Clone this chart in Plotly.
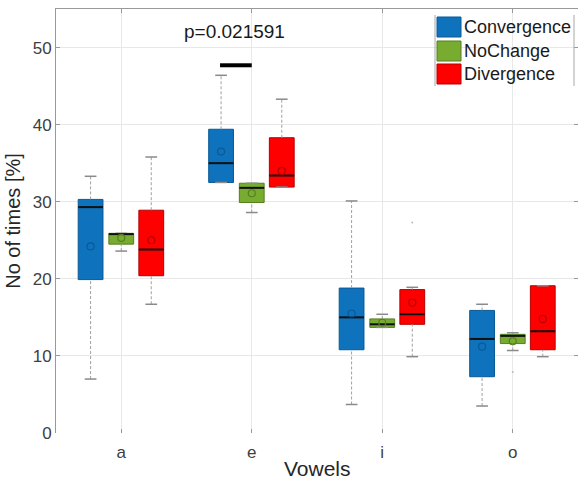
import plotly.graph_objects as go

vowels = ['a', 'e', 'i', 'o']
groups = ['Convergence', 'NoChange', 'Divergence']
fill_colors = ['#0E72BD', '#77AC30', '#FF0000']
edge_colors = ['#0A5A96', '#557F20', '#B40000']
offsets = [-0.235, 0.0, 0.23]
box_width = 0.19
cap_half = 0.045

q1 = {
    'Convergence': [19.9, 32.5, 10.8, 7.3],
    'NoChange':    [24.5, 29.9, 13.7, 11.6],
    'Divergence':  [20.4, 31.9, 14.1, 10.8],
}
median = {
    'Convergence': [29.3, 35.0, 15.0, 12.2],
    'NoChange':    [25.8, 31.8, 14.1, 12.6],
    'Divergence':  [23.8, 33.4, 15.4, 13.2],
}
q3 = {
    'Convergence': [30.3, 39.4, 18.8, 15.9],
    'NoChange':    [25.9, 32.4, 14.8, 12.8],
    'Divergence':  [28.9, 38.3, 18.6, 19.1],
}
lower_whisker = {
    'Convergence': [7.0, 32.5, 3.7, 3.5],
    'NoChange':    [23.6, 28.6, 13.7, 10.7],
    'Divergence':  [16.7, 31.9, 9.9, 9.9],
}
upper_whisker = {
    'Convergence': [33.3, 46.4, 30.1, 16.7],
    'NoChange':    [25.9, 32.4, 15.4, 13.0],
    'Divergence':  [35.8, 43.3, 18.9, 19.1],
}
means = {
    'Convergence': [24.2, 36.5, 15.5, 11.2],
    'NoChange':    [25.3, 31.1, 14.3, 11.9],
    'Divergence':  [25.0, 34.0, 16.9, 14.8],
}
outlier_group = ['Divergence', 'NoChange']
outlier_vowel = [2, 3]
outlier_value = [27.3, 7.9]

p_text = 'p=0.021591'
p_text_pos = (1.87, 52.1)
sig_bar_x = [1.757, 2.0]
sig_bar_y = 47.7
x_title = 'Vowels'
y_title = 'No of times [%]'

FONT = 'Liberation Sans, Arial, sans-serif'
W, H = 585, 481
ML, MR, MT, MB = 56, 7, 9, 48


def px_x(px):
    return (px - ML) / (W - ML - MR)


def px_y(py):
    return (H - MB - py) / (H - MB - MT)


fig = go.Figure()

for gi, g in enumerate(groups):
    pos = [i + 1 + offsets[gi] for i in range(len(vowels))]
    wx, wy, cx, cy = [], [], [], []
    for p, lo, hi, a, b in zip(pos, lower_whisker[g], upper_whisker[g], q1[g], q3[g]):
        if hi > b:
            wx += [p, p, None]; wy += [b, hi, None]
        if lo < a:
            wx += [p, p, None]; wy += [lo, a, None]
        cx += [p - cap_half, p + cap_half, None, p - cap_half, p + cap_half, None]
        cy += [hi, hi, None, lo, lo, None]
    fig.add_trace(go.Scatter(x=wx, y=wy, mode='lines', showlegend=False, hoverinfo='skip',
                             line=dict(color='#a0a0a0', width=1, dash='3px,2px')))
    fig.add_trace(go.Scatter(x=cx, y=cy, mode='lines', showlegend=False, hoverinfo='skip',
                             line=dict(color='#8a8a8a', width=1.5)))
    fig.add_trace(go.Box(x=pos, q1=q1[g], median=median[g], q3=q3[g],
                         lowerfence=q1[g], upperfence=q3[g],
                         width=box_width, whiskerwidth=0,
                         fillcolor=fill_colors[gi], line=dict(color=edge_colors[gi], width=1),
                         boxpoints=False, showlegend=False, name=g))
    mx, my = [], []
    for p, m in zip(pos, median[g]):
        mx += [p - box_width / 2, p + box_width / 2, None]
        my += [m, m, None]
    fig.add_trace(go.Scatter(x=mx, y=my, mode='lines', showlegend=False, hoverinfo='skip',
                             line=dict(color='#111111', width=2)))
    fig.add_trace(go.Scatter(x=pos, y=means[g], mode='markers', showlegend=False, name=g + ' mean',
                             marker=dict(symbol='circle-open', size=7,
                                         color=edge_colors[gi], line=dict(width=1.2))))

ox = [outlier_vowel[k] + 1 + offsets[groups.index(outlier_group[k])] for k in range(len(outlier_value))]
fig.add_trace(go.Scatter(x=ox, y=outlier_value, mode='markers', showlegend=False,
                         marker=dict(symbol='circle', size=2, color='#bbbbbb')))

# significance bar and text
fig.add_trace(go.Scatter(x=sig_bar_x, y=[sig_bar_y, sig_bar_y], mode='lines', showlegend=False,
                         line=dict(color='black', width=4), hoverinfo='skip'))
fig.add_annotation(x=p_text_pos[0], y=p_text_pos[1], text=p_text, showarrow=False,
                   font=dict(size=19, color='#1a1a1a', family=FONT))

# x-axis title, kept low near the bottom edge as in the original
fig.add_annotation(xref='paper', yref='paper', x=0.5, y=px_y(481), xanchor='center', yanchor='bottom',
                   text=x_title, showarrow=False, borderpad=0,
                   font=dict(size=21, color='#262626', family=FONT))

# legend (drawn like the MATLAB legend)
leg_rows = [(17, 37), (41, 61), (64, 84)]
for gi, g in enumerate(groups):
    t, b = leg_rows[gi]
    fig.add_shape(type='rect', xref='paper', yref='paper',
                  x0=px_x(437), x1=px_x(461), y0=px_y(b), y1=px_y(t),
                  fillcolor=fill_colors[gi], line=dict(color=edge_colors[gi], width=1))
    fig.add_annotation(xref='paper', yref='paper', x=px_x(462), y=px_y((t + b) / 2),
                       xanchor='left', yanchor='middle', text=g, showarrow=False,
                       font=dict(size=18, color='#1a1a1a', family=FONT))
for lx in (435, 574):
    fig.add_shape(type='line', xref='paper', yref='paper',
                  x0=px_x(lx), x1=px_x(lx), y0=px_y(86), y1=px_y(15),
                  line=dict(color='#a8a8a8', width=1))

fig.add_trace(go.Scatter(x=[None], y=[None], xaxis='x2', yaxis='y2', showlegend=False))

tick_font = dict(family=FONT, size=17, color='#404040')
fig.update_layout(
    width=W, height=H,
    margin=dict(l=ML, r=MR, t=MT, b=MB, autoexpand=False),
    plot_bgcolor='white', paper_bgcolor='white',
    font=dict(family=FONT),
    boxmode='overlay',
    showlegend=False,
    xaxis=dict(range=[0.5, 4.5], tickvals=[1, 2, 3, 4], ticktext=vowels,
               showgrid=True, gridcolor='#e8e8e8', gridwidth=1,
               zeroline=False, showline=False, automargin=False,
               ticks='inside', ticklen=4, tickcolor='#999999',
               tickfont=tick_font, ticklabelstandoff=7),
    yaxis=dict(range=[0, 55], tickvals=[0, 10, 20, 30, 40, 50],
               showgrid=True, gridcolor='#e8e8e8', gridwidth=1,
               zeroline=False, showline=True, linecolor='#999999', linewidth=1,
               automargin=False,
               ticks='inside', ticklen=4, tickcolor='#999999',
               tickfont=tick_font,
               title=dict(text=y_title, font=dict(size=20, color='#262626', family=FONT), standoff=6)),
    xaxis2=dict(range=[0.5, 4.5], overlaying='x', side='top', tickvals=[1, 2, 3, 4],
                showticklabels=False, showgrid=False, zeroline=False, automargin=False,
                showline=True, linecolor='#999999', linewidth=1,
                ticks='inside', ticklen=4, tickcolor='#999999'),
    yaxis2=dict(range=[0, 55], overlaying='y', side='right', tickvals=[0, 10, 20, 30, 40, 50],
                showticklabels=False, showgrid=False, zeroline=False, showline=False, automargin=False,
                ticks='inside', ticklen=4, tickcolor='#999999'),
)

fig.write_html('out.html')
